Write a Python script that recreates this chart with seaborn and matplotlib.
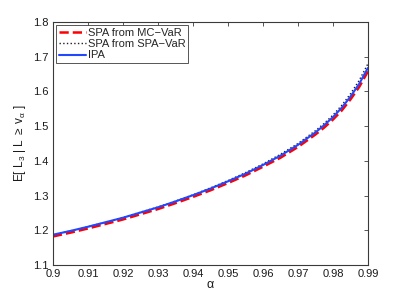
import numpy as np
import pandas as pd
import matplotlib
matplotlib.use("Agg")
import matplotlib.pyplot as plt
import seaborn as sns

# ----------------------------------------------------------------
# data
# ----------------------------------------------------------------
alpha = [0.900, 0.905, 0.910, 0.915, 0.920, 0.925, 0.930, 0.935, 0.940, 0.945,
         0.950, 0.955, 0.960, 0.965, 0.970, 0.975, 0.9775, 0.980, 0.9825,
         0.985, 0.9875, 0.990]

ipa = [1.187, 1.198, 1.210, 1.223, 1.236, 1.251, 1.266, 1.283, 1.301, 1.320,
       1.341, 1.363, 1.388, 1.415, 1.446, 1.482, 1.503, 1.526, 1.553,
       1.585, 1.622, 1.668]

spa_mc = [1.182, 1.193, 1.205, 1.218, 1.231, 1.246, 1.261, 1.278, 1.296, 1.315,
          1.336, 1.358, 1.383, 1.409, 1.440, 1.476, 1.496, 1.519, 1.545,
          1.577, 1.613, 1.658]

spa_spa = [1.187, 1.198, 1.210, 1.223, 1.237, 1.252, 1.267, 1.284, 1.302, 1.322,
           1.343, 1.366, 1.391, 1.419, 1.450, 1.487, 1.508, 1.532, 1.560,
           1.593, 1.632, 1.680]

xticks = [0.9, 0.91, 0.92, 0.93, 0.94, 0.95, 0.96, 0.97, 0.98, 0.99]
xtick_labels = ["0.9", "0.91", "0.92", "0.93", "0.94", "0.95", "0.96", "0.97", "0.98", "0.99"]
yticks = [1.1, 1.2, 1.3, 1.4, 1.5, 1.6, 1.7, 1.8]
ytick_labels = ["1.1", "1.2", "1.3", "1.4", "1.5", "1.6", "1.7", "1.8"]

df = pd.DataFrame({"alpha": alpha, "ipa": ipa, "spa_mc": spa_mc, "spa_spa": spa_spa})

# ----------------------------------------------------------------
# style (matlab look)
# ----------------------------------------------------------------
sns.set_style("white")
plt.rcParams["font.family"] = ["Liberation Sans", "DejaVu Sans"]
plt.rcParams["mathtext.fontset"] = "custom"
plt.rcParams["mathtext.rm"] = "Liberation Sans"
plt.rcParams["mathtext.it"] = "Liberation Sans"
plt.rcParams["mathtext.default"] = "regular"

axis_col = "#3a3a3a"

fig = plt.figure(figsize=(4.07, 2.99), dpi=100)
ax = fig.add_axes([0.13, 0.114, 0.774, 0.812])

sns.lineplot(data=df, x="alpha", y="spa_mc", ax=ax, color="#ff0000",
             linestyle="--", linewidth=1.8, label="SPA from MC\u2212VaR")
sns.lineplot(data=df, x="alpha", y="spa_spa", ax=ax, color="#202020",
             linestyle=":", linewidth=1.0, label="SPA from SPA\u2212VaR")
sns.lineplot(data=df, x="alpha", y="ipa", ax=ax, color="#2346ff",
             linestyle="-", linewidth=1.5, label="IPA")

ax.set_xlim(0.9, 0.99)
ax.set_ylim(1.1, 1.8)
ax.set_xticks(xticks)
ax.set_xticklabels(xtick_labels)
ax.set_yticks(yticks)
ax.set_yticklabels(ytick_labels)

ax.tick_params(direction="in", length=3, width=0.6, colors=axis_col,
               labelcolor="#1a1a1a", labelsize=8, top=True, right=True, pad=3)
for sp in ax.spines.values():
    sp.set_color(axis_col)
    sp.set_linewidth(0.8)
    sp.set_visible(True)

ax.set_xlabel("\u03b1", fontsize=9, labelpad=0, color="#1a1a1a")
ax.set_ylabel(r"E[ L$_3$ | L $\geq$ v$_\alpha$ ]", fontsize=8.5, labelpad=4, color="#1a1a1a")

leg = ax.legend(loc="upper left", fontsize=8, frameon=True, fancybox=False,
                framealpha=1, edgecolor=axis_col, borderaxespad=0.3,
                handlelength=2.4, handletextpad=0.2, borderpad=0.25,
                labelspacing=0.1)
leg.get_frame().set_linewidth(0.6)

fig.savefig("out.png", dpi=100)
